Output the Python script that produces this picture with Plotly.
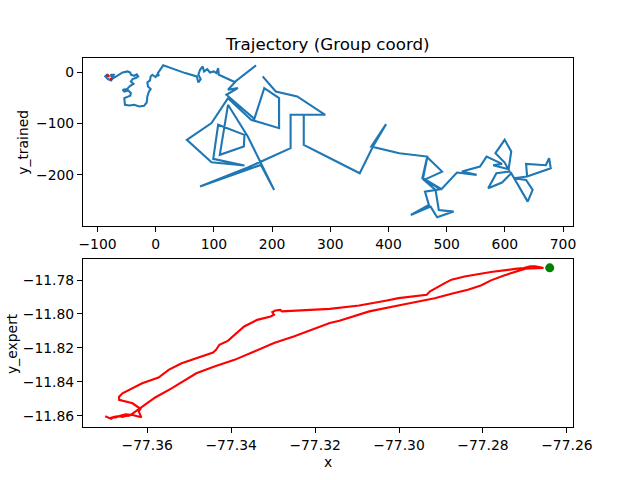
import plotly.graph_objects as go

# trained trajectory (group coordinates)
trained_x = [-79.5, -83.5, -86.8, -82.3, -76.7, -73.8, -77.8, -72.1, -75.5, -69.9,
             -64.2, -56.8, -48.4, -43.8, -42.7, -37.0, -32.5, -30.2, -34.2, -39.9,
             -42.7, -38.2, -43.8, -49.5, -56.8, -54.0, -47.2, -42.7, -43.8, -49.5,
             -54.0, -52.9, -45.5, -37.0, -28.5, -20.1, -15.5, -14.4, -11.6, -8.7,
             -13.3, -14.4, -9.9, -8.7, -5.9, -0.3, 2.6, 5.4, 3.7, 12.8,
             30.9, 50.7, 70.5, 73.3, 77.3, 73.3, 76.2, 80.7, 83.0, 88.6,
             93.1, 99.9, 104.4, 107.3, 108.4,
             135.6, 172.4, 138.4, 124.2, 141.2, 121.4, 169.5, 186.5, 212.0, 212.0,
             163.9, 124.2, 95.9, 53.5, 95.9, 152.5, 98.8, 107.3, 152.5, 151.4,
             110.1, 124.2, 158.2, 203.5, 180.8, 76.1, 158.2, 231.8, 231.8, 291.2,
             243.1, 206.3, 183.7, 206.3, 243.1, 291.2, 254.4, 254.4, 299.7,
             350.6, 373.3, 395.9, 370.4, 418.6,
             466.7, 458.2, 489.4, 462.7, 469.5, 438.4, 472.4, 483.7, 512.0, 486.5,
             480.9, 461.1, 492.2, 466.7, 459.4, 491.0, 517.7, 551.6, 526.1, 557.3,
             568.6,
             595.2, 579.9, 606.5, 611.0, 599.7, 583.8, 599.7, 608.2, 585.5, 571.4,
             595.2, 611.0, 639.3, 647.8, 636.5, 615.5, 638.2, 678.9, 676.1, 670.4,
             636.5, 638.2]
trained_y = [-9.9, -5.3, -8.5, -13.7, -16.3, -11.8, -5.3, -5.3, -13.7, -9.9,
             -5.3, -0.8, 1.2, -0.8, -5.3, -7.3, -4.7, -8.5, -11.8, -13.7,
             -18.3, -22.8, -26.7, -33.2, -34.5, -37.8, -35.8, -41.0, -46.2, -48.8,
             -50.7, -63.7, -65.0, -63.7, -67.0, -65.7, -59.2, -47.5, -37.8, -33.2,
             -28.0, -20.2, -16.3, -8.5, -5.3, -9.9, -5.3, -7.3, -2.1, 13.0,
             5.7, -2.1, -8.5, -20.2, -13.7, -5.3, 4.4, 10.9, 1.2, 5.7,
             -0.8, 1.2, -2.0, 7.7, -5.2,
             -19.5, 12.9, -16.9, -34.4, -31.2, -44.2, -90.9, -31.2, -50.7, -109.1,
             -92.9, -50.7, -99.3, -131.8, -175.3, -181.8, -168.8, -102.6, -122.1, -144.8,
             -161.0, -63.7, -125.3, -229.1, -180.5, -222.7, -185.7, -148.0, -83.1, -83.1,
             -47.4, -37.7, -8.5, -37.7, -47.4, -83.1, -83.1, -141.5, -167.5,
             -196.7, -144.8, -101.3, -144.8, -157.8,
             -164.3, -206.4, -227.9, -232.4, -258.4, -277.8, -261.6, -282.4, -271.3, -268.1,
             -229.2, -209.7, -193.5, -165.5, -206.4, -227.9, -195.4, -199.9, -193.5, -183.7,
             -164.3,
             -178.5, -181.1, -188.9, -154.5, -131.8, -157.8, -175.9, -193.5, -196.7, -225.9,
             -214.9, -196.7, -251.9, -229.2, -209.7, -206.4, -203.2, -187.0, -167.5, -181.1,
             -178.5, -201.9]

# start markers on the trained trajectory
start_x = [-82.4, -76.9]
start_y = [-6.6, -13.6]

# expert trajectory
expert_x = [-77.3700, -77.3694, -77.3686, -77.3681, -77.3675, -77.3667, -77.3659, -77.3651,
            -77.3643, -77.3635, -77.3624, -77.3600, -77.3581, -77.3541, -77.3502, -77.3483,
            -77.3440, -77.3392, -77.3345, -77.3298, -77.3251, -77.3204, -77.3165,
            -77.3142, -77.3071, -77.2993, -77.2915, -77.2875, -77.2836, -77.2805, -77.2781,
            -77.2750, -77.2718, -77.2699, -77.2656, -77.2675, -77.2687, -77.2703, -77.2718,
            -77.2781, -77.2844, -77.2875, -77.2891, -77.2926, -77.2934, -77.3001, -77.3032,
            -77.3095, -77.3165,
            -77.3204, -77.3279, -77.3283, -77.3295, -77.3302, -77.3298, -77.3306, -77.3338,
            -77.3369, -77.3385, -77.3408, -77.3428, -77.3436, -77.3443, -77.3479, -77.3518,
            -77.3549, -77.3573, -77.3612, -77.3635, -77.3659, -77.3667, -77.3667, -77.3635,
            -77.3624, -77.3616, -77.3620, -77.3614, -77.3635, -77.3651, -77.3667, -77.3678,
            -77.3690]
expert_y = [-11.8604, -11.8612, -11.8619, -11.8610, -11.8610, -11.8604, -11.8608, -11.8602,
            -11.8600, -11.8588, -11.8568, -11.8527, -11.8493, -11.8438, -11.8379, -11.8350,
            -11.8310, -11.8271, -11.8222, -11.8172, -11.8133, -11.8088, -11.8054,
            -11.8040, -11.7985, -11.7946, -11.7907, -11.7881, -11.7857, -11.7832, -11.7802,
            -11.7773, -11.7745, -11.7733, -11.7729, -11.7719, -11.7719, -11.7729, -11.7733,
            -11.7753, -11.7779, -11.7798, -11.7818, -11.7867, -11.7887, -11.7907, -11.7922,
            -11.7950, -11.7970,
            -11.7976, -11.7985, -11.7976, -11.7980, -11.7989, -11.8005, -11.8015, -11.8035,
            -11.8074, -11.8108, -11.8159, -11.8182, -11.8212, -11.8228, -11.8257, -11.8291,
            -11.8330, -11.8375, -11.8409, -11.8438, -11.8468, -11.8488, -11.8507, -11.8527,
            -11.8547, -11.8560, -11.8576, -11.8610, -11.8596, -11.8592, -11.8602, -11.8606,
            -11.8616]

goal_x = [-77.2641]
goal_y = [-11.7728]

top_xticks = [-100, 0, 100, 200, 300, 400, 500, 600, 700]
top_yticks = [0, -100, -200]
bottom_xticks = [-77.36, -77.34, -77.32, -77.30, -77.28, -77.26]
bottom_yticks = [-11.86, -11.84, -11.82, -11.80, -11.78]

FONT = "DejaVu Sans"
# positions below are measured on a 640x480 picture; the page is captured
# about 656px wide, so the figure is laid out at that width
W, H = 656, 480


def px_x(p):
    return p / 640


def px_y(p):
    return 1 - p / H


fig = go.Figure()
fig.add_trace(go.Scatter(x=trained_x, y=trained_y, mode="lines",
                         line=dict(color="#1f77b4", width=2.1),
                         xaxis="x", yaxis="y"))
fig.add_trace(go.Scatter(x=start_x, y=start_y, mode="markers",
                         marker=dict(color="red", size=3),
                         xaxis="x", yaxis="y"))
fig.add_trace(go.Scatter(x=expert_x, y=expert_y, mode="lines",
                         line=dict(color="red", width=2.1),
                         xaxis="x2", yaxis="y2"))
fig.add_trace(go.Scatter(x=goal_x, y=goal_y, mode="markers",
                         marker=dict(color="green", size=9),
                         xaxis="x2", yaxis="y2"))

axis_style = dict(showline=True, linecolor="black", linewidth=1.1, mirror=True,
                  ticks="outside", ticklen=5, tickwidth=1.1, tickcolor="black",
                  showgrid=False, zeroline=False,
                  tickfont=dict(family=FONT, size=13.9, color="black"))

fig.update_layout(
    width=W, height=H,
    margin=dict(l=0, r=0, t=0, b=0),
    paper_bgcolor="white", plot_bgcolor="white",
    showlegend=False,
    xaxis=dict(domain=[px_x(80), px_x(576)], range=[-125, 716.8], anchor="y",
               tickvals=top_xticks, **axis_style),
    yaxis=dict(domain=[px_y(226), px_y(58)], range=[-299.3, 27.3], anchor="x",
               tickvals=top_yticks, **axis_style),
    xaxis2=dict(domain=[px_x(80), px_x(576)], range=[-77.3753, -77.2586], anchor="y2",
                tickvals=bottom_xticks, tickformat=".2f", **axis_style),
    yaxis2=dict(domain=[px_y(427), px_y(259)], range=[-11.8667, -11.7676], anchor="x2",
                tickvals=bottom_yticks, tickformat=".2f", **axis_style),
    annotations=[
        dict(text="Trajectory (Group coord)", x=px_x(328), y=px_y(44),
             xref="paper", yref="paper", showarrow=False,
             xanchor="center", yanchor="middle",
             font=dict(family=FONT, size=16.7, color="black")),
        dict(text="y_trained", x=px_x(19), y=px_y(142), textangle=-90,
             xref="paper", yref="paper", showarrow=False,
             xanchor="center", yanchor="middle",
             font=dict(family=FONT, size=13.9, color="black")),
        dict(text="y_expert", x=px_x(8), y=px_y(343), textangle=-90,
             xref="paper", yref="paper", showarrow=False,
             xanchor="center", yanchor="middle",
             font=dict(family=FONT, size=13.9, color="black")),
        dict(text="x", x=px_x(328), y=px_y(462),
             xref="paper", yref="paper", showarrow=False,
             xanchor="center", yanchor="middle",
             font=dict(family=FONT, size=13.9, color="black")),
    ],
)

# drop the browser's default body margin so the figure starts at the corner
fig.write_html("out.html", config={"displayModeBar": False},
               post_script="document.body.style.margin = '0';")
